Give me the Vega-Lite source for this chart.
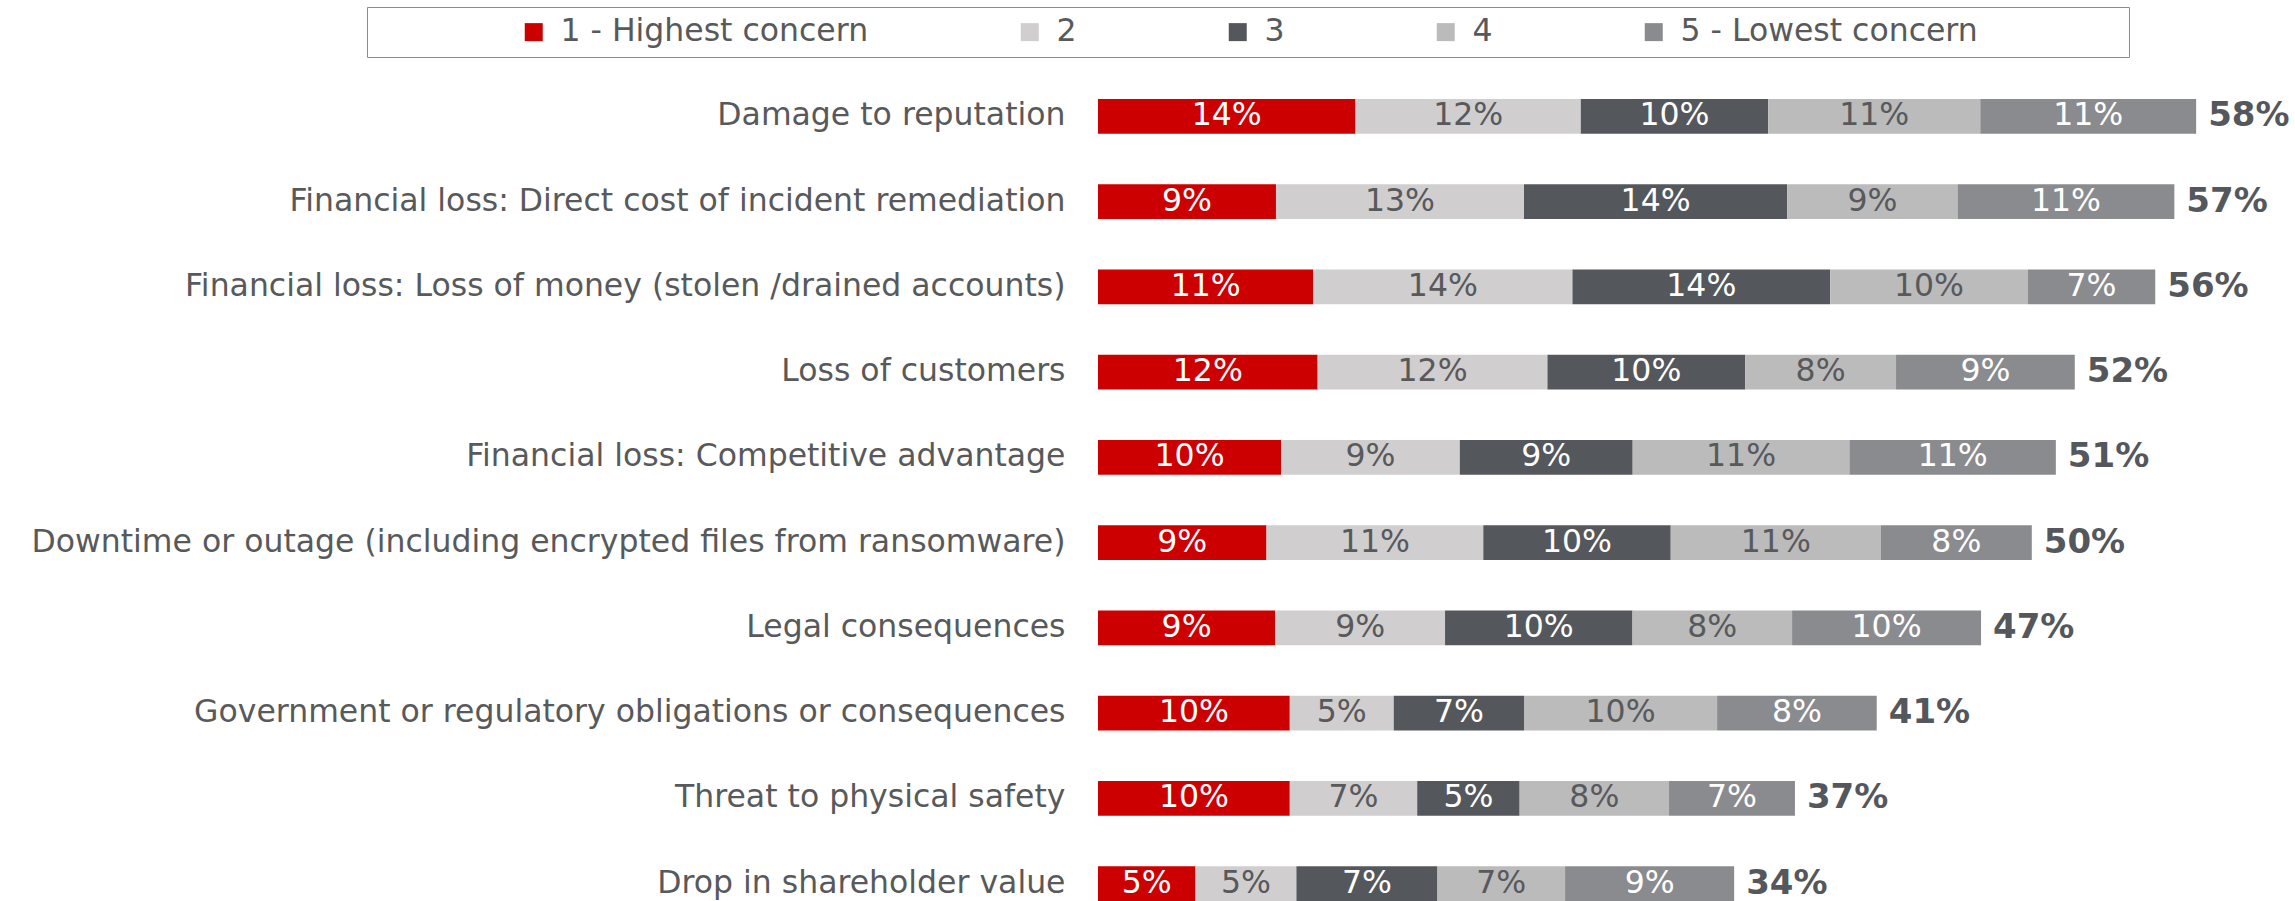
{
  "$schema": "https://vega.github.io/schema/vega-lite/v6.json",
  "autosize": {"type": "none"},
  "width": 1136,
  "height": 802,
  "padding": {"left": 1098, "top": 99, "right": 61, "bottom": 0},
  "background": "white",
  "config": {
    "view": {"stroke": null},
    "font": "DejaVu Sans",
    "text": {"font": "DejaVu Sans"}
  },
  "datasets": {
    "segments": [
      {"category": "Damage to reputation", "level": "1 - Highest concern", "value": 0.136},
      {"category": "Damage to reputation", "level": "2", "value": 0.119},
      {"category": "Damage to reputation", "level": "3", "value": 0.099},
      {"category": "Damage to reputation", "level": "4", "value": 0.112},
      {"category": "Damage to reputation", "level": "5 - Lowest concern", "value": 0.114},
      {"category": "Financial loss: Direct cost of incident remediation", "level": "1 - Highest concern", "value": 0.094},
      {"category": "Financial loss: Direct cost of incident remediation", "level": "2", "value": 0.131},
      {"category": "Financial loss: Direct cost of incident remediation", "level": "3", "value": 0.139},
      {"category": "Financial loss: Direct cost of incident remediation", "level": "4", "value": 0.09},
      {"category": "Financial loss: Direct cost of incident remediation", "level": "5 - Lowest concern", "value": 0.1145},
      {"category": "Financial loss: Loss of money (stolen /drained accounts)", "level": "1 - Highest concern", "value": 0.1137},
      {"category": "Financial loss: Loss of money (stolen /drained accounts)", "level": "2", "value": 0.1369},
      {"category": "Financial loss: Loss of money (stolen /drained accounts)", "level": "3", "value": 0.1361},
      {"category": "Financial loss: Loss of money (stolen /drained accounts)", "level": "4", "value": 0.1044},
      {"category": "Financial loss: Loss of money (stolen /drained accounts)", "level": "5 - Lowest concern", "value": 0.0673},
      {"category": "Loss of customers", "level": "1 - Highest concern", "value": 0.116},
      {"category": "Loss of customers", "level": "2", "value": 0.1214},
      {"category": "Loss of customers", "level": "3", "value": 0.1044},
      {"category": "Loss of customers", "level": "4", "value": 0.0797},
      {"category": "Loss of customers", "level": "5 - Lowest concern", "value": 0.0944},
      {"category": "Financial loss: Competitive advantage", "level": "1 - Highest concern", "value": 0.0967},
      {"category": "Financial loss: Competitive advantage", "level": "2", "value": 0.0944},
      {"category": "Financial loss: Competitive advantage", "level": "3", "value": 0.0913},
      {"category": "Financial loss: Competitive advantage", "level": "4", "value": 0.1145},
      {"category": "Financial loss: Competitive advantage", "level": "5 - Lowest concern", "value": 0.109},
      {"category": "Downtime or outage (including encrypted files from ransomware)", "level": "1 - Highest concern", "value": 0.089},
      {"category": "Downtime or outage (including encrypted files from ransomware)", "level": "2", "value": 0.1145},
      {"category": "Downtime or outage (including encrypted files from ransomware)", "level": "3", "value": 0.099},
      {"category": "Downtime or outage (including encrypted files from ransomware)", "level": "4", "value": 0.111},
      {"category": "Downtime or outage (including encrypted files from ransomware)", "level": "5 - Lowest concern", "value": 0.0797},
      {"category": "Legal consequences", "level": "1 - Highest concern", "value": 0.0936},
      {"category": "Legal consequences", "level": "2", "value": 0.0897},
      {"category": "Legal consequences", "level": "3", "value": 0.099},
      {"category": "Legal consequences", "level": "4", "value": 0.0843},
      {"category": "Legal consequences", "level": "5 - Lowest concern", "value": 0.0998},
      {"category": "Government or regulatory obligations or consequences", "level": "1 - Highest concern", "value": 0.1013},
      {"category": "Government or regulatory obligations or consequences", "level": "2", "value": 0.0549},
      {"category": "Government or regulatory obligations or consequences", "level": "3", "value": 0.0688},
      {"category": "Government or regulatory obligations or consequences", "level": "4", "value": 0.102},
      {"category": "Government or regulatory obligations or consequences", "level": "5 - Lowest concern", "value": 0.0843},
      {"category": "Threat to physical safety", "level": "1 - Highest concern", "value": 0.1013},
      {"category": "Threat to physical safety", "level": "2", "value": 0.0673},
      {"category": "Threat to physical safety", "level": "3", "value": 0.0541},
      {"category": "Threat to physical safety", "level": "4", "value": 0.0789},
      {"category": "Threat to physical safety", "level": "5 - Lowest concern", "value": 0.0665},
      {"category": "Drop in shareholder value", "level": "1 - Highest concern", "value": 0.0515},
      {"category": "Drop in shareholder value", "level": "2", "value": 0.0533},
      {"category": "Drop in shareholder value", "level": "3", "value": 0.0745},
      {"category": "Drop in shareholder value", "level": "4", "value": 0.0674},
      {"category": "Drop in shareholder value", "level": "5 - Lowest concern", "value": 0.0893}
    ],
    "totals": [
      {"category": "Damage to reputation", "total": 0.58},
      {"category": "Financial loss: Direct cost of incident remediation", "total": 0.57},
      {"category": "Financial loss: Loss of money (stolen /drained accounts)", "total": 0.56},
      {"category": "Loss of customers", "total": 0.52},
      {"category": "Financial loss: Competitive advantage", "total": 0.51},
      {"category": "Downtime or outage (including encrypted files from ransomware)", "total": 0.50},
      {"category": "Legal consequences", "total": 0.47},
      {"category": "Government or regulatory obligations or consequences", "total": 0.41},
      {"category": "Threat to physical safety", "total": 0.37},
      {"category": "Drop in shareholder value", "total": 0.34}
    ]
  },
  "encoding": {
    "y": {
      "field": "category",
      "type": "nominal",
      "sort": [
        "Damage to reputation",
        "Financial loss: Direct cost of incident remediation",
        "Financial loss: Loss of money (stolen /drained accounts)",
        "Loss of customers",
        "Financial loss: Competitive advantage",
        "Downtime or outage (including encrypted files from ransomware)",
        "Legal consequences",
        "Government or regulatory obligations or consequences",
        "Threat to physical safety",
        "Drop in shareholder value"
      ],
      "scale": {"paddingInner": 0.591, "paddingOuter": 0},
      "axis": {
        "title": null,
        "domain": false,
        "ticks": false,
        "tickSize": 0,
        "labelPadding": 33,
        "labelLimit": 0,
        "labelFont": "DejaVu Sans",
        "labelFontSize": 31.5,
        "labelColor": "#58595B"
      }
    }
  },
  "layer": [
    {
      "data": {"name": "segments"},
      "mark": {"type": "bar"},
      "encoding": {
        "x": {
          "field": "value",
          "type": "quantitative",
          "stack": "zero",
          "scale": {"domain": [0, 0.6]},
          "axis": null
        },
        "color": {
          "field": "level",
          "type": "nominal",
          "scale": {
            "domain": ["1 - Highest concern", "2", "3", "4", "5 - Lowest concern"],
            "range": ["#CC0000", "#D0CECE", "#54575B", "#BBBBBB", "#8A8B8F"]
          },
          "legend": {
            "orient": "none",
            "direction": "horizontal",
            "legendX": -731,
            "legendY": -92,
            "title": " ",
            "titleOrient": "left",
            "titlePadding": 142,
            "titleFontSize": 31.5,
            "padding": 9,
            "strokeColor": "#8C8C8C",
            "fillColor": "white",
            "columnPadding": 145,
            "symbolType": "square",
            "symbolSize": 324,
            "symbolStrokeWidth": 0,
            "labelOffset": 11,
            "labelFont": "DejaVu Sans",
            "labelFontSize": 31.5,
            "labelColor": "#58595B",
            "labelLimit": 0,
            "labelExpr": "indexof(datum.label, 'Lowest') >= 0 ? datum.label + '\u2003\u2003\u2003\u2003\u2002\u200b' : datum.label"
          }
        },
        "order": {"field": "level", "sort": "ascending"}
      }
    },
    {
      "data": {"name": "segments"},
      "transform": [
        {"stack": "value", "groupby": ["category"], "sort": [{"field": "level", "order": "ascending"}], "as": ["v0", "v1"]},
        {"calculate": "(datum.v0 + datum.v1) / 2", "as": "mid"}
      ],
      "mark": {"type": "text", "fontSize": 31.5, "baseline": "middle", "align": "center"},
      "encoding": {
        "x": {"field": "mid", "type": "quantitative"},
        "text": {"field": "value", "type": "quantitative", "format": ".0%"},
        "color": {
          "condition": {"test": "datum.level == '2' || datum.level == '4'", "value": "#58595B"},
          "value": "white"
        }
      }
    },
    {
      "data": {"name": "segments"},
      "transform": [
        {"aggregate": [{"op": "sum", "field": "value", "as": "end"}], "groupby": ["category"]},
        {"lookup": "category", "from": {"data": {"name": "totals"}, "key": "category", "fields": ["total"]}}
      ],
      "mark": {"type": "text", "fontSize": 34, "fontWeight": "bold", "align": "left", "baseline": "middle", "dx": 12, "color": "#54575B"},
      "encoding": {
        "x": {"field": "end", "type": "quantitative"},
        "text": {"field": "total", "type": "quantitative", "format": ".0%"}
      }
    }
  ]
}
